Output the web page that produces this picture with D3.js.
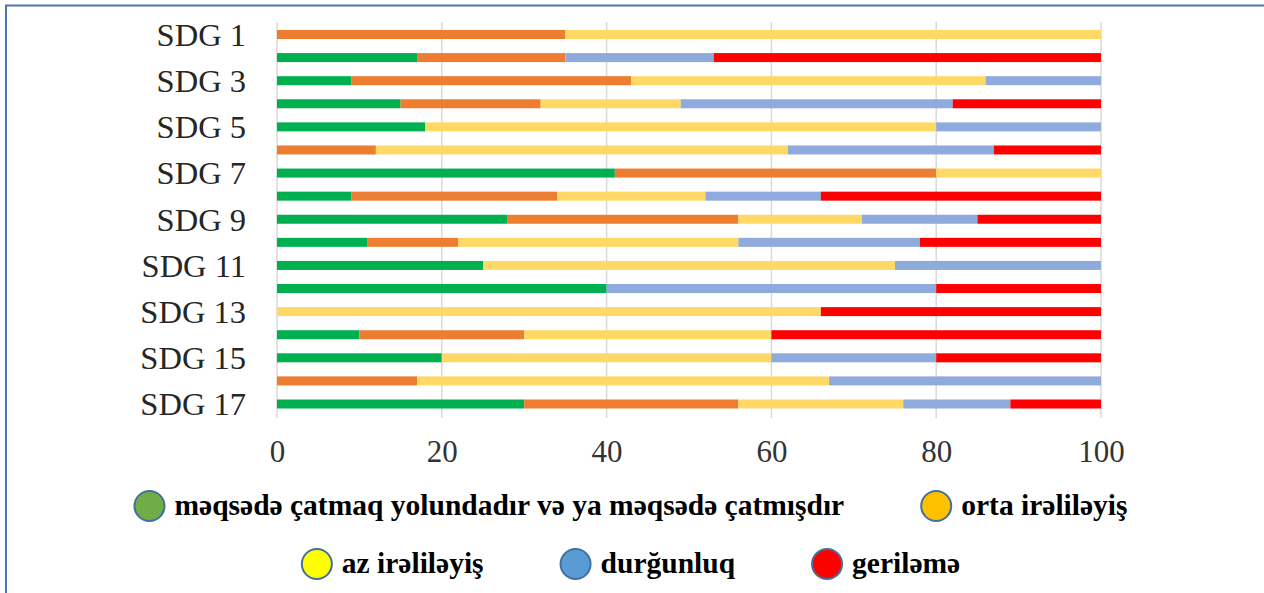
<!DOCTYPE html>
<html>
<head>
  <meta charset="utf-8">
  <title>SDG irəliləyiş</title>
  <style>
    body { margin: 0; background: #fff; }
    .yaxis .domain, .xaxis .domain { display: none; }
    .yaxis text { font: 32.5px "Liberation Serif", "Times New Roman", serif; fill: #262626; }
    .xaxis text { font: 31px "Liberation Serif", "Times New Roman", serif; fill: #333; }
    .legend text { font: bold 29.5px "Liberation Serif", "Times New Roman", serif; fill: #000; }
  </style>
</head>
<body>
<svg id="chart" width="1264" height="593"></svg>
<script src="https://cdn.jsdelivr.net/npm/d3@7"></script>
<script>
  // Data
  var categories = ["SDG 1", "SDG 2", "SDG 3", "SDG 4", "SDG 5", "SDG 6", "SDG 7", "SDG 8", "SDG 9",
                    "SDG 10", "SDG 11", "SDG 12", "SDG 13", "SDG 14", "SDG 15", "SDG 16", "SDG 17"];
  var seriesNames = ["məqsədə çatmaq yolundadır və ya məqsədə çatmışdır", "orta irəliləyiş",
                     "az irəliləyiş", "durğunluq", "geriləmə"];
  var onTrack    = [0, 17, 9, 15, 18, 0, 41, 9, 28, 11, 25, 40, 0, 10, 20, 0, 30];
  var moderate   = [35, 18, 34, 17, 0, 12, 39, 25, 28, 11, 0, 0, 0, 20, 0, 17, 26];
  var little     = [65, 0, 43, 17, 62, 50, 20, 18, 15, 34, 50, 0, 66, 30, 40, 50, 20];
  var stagnation = [0, 18, 14, 33, 20, 25, 0, 14, 14, 22, 25, 40, 0, 0, 20, 33, 13];
  var regression = [0, 47, 0, 18, 0, 13, 0, 34, 15, 22, 0, 20, 34, 40, 20, 0, 11];
  var xTicks = [0, 20, 40, 60, 80, 100];

  var barColors = ["#00b050", "#ed7d31", "#ffd966", "#8faadc", "#ff0000"];
  var legendColors = ["#70ad47", "#ffc000", "#ffff00", "#5b9bd5", "#ff0000"];

  var allValues = [onTrack, moderate, little, stagnation, regression];
  var rows = categories.map(function(c, i) {
    var r = {cat: c};
    seriesNames.forEach(function(k, j) { r[k] = allValues[j][i]; });
    return r;
  });

  var svg = d3.select("#chart");

  // frame (top and left edges visible)
  svg.append("rect")
    .attr("x", 6).attr("y", 5.5)
    .attr("width", 1300).attr("height", 700)
    .attr("fill", "none")
    .attr("stroke", "#4f76ab")
    .attr("stroke-width", 2);

  var x = d3.scaleLinear().domain([0, 100]).range([277, 1101]);
  var y = d3.scaleBand().domain(categories)
    .range([22.95, 415.55])
    .paddingInner(0.61)
    .paddingOuter(0.305);

  // gridlines
  svg.append("g")
    .selectAll("line")
    .data(xTicks)
    .enter().append("line")
    .attr("x1", function(d) { return x(d); })
    .attr("x2", function(d) { return x(d); })
    .attr("y1", 22)
    .attr("y2", 418)
    .attr("stroke", "#d9d9d9")
    .attr("stroke-width", 1.5);

  // bars
  var stack = d3.stack().keys(seriesNames)(rows);
  svg.append("g")
    .selectAll("g")
    .data(stack)
    .enter().append("g")
    .attr("fill", function(d, i) { return barColors[i]; })
    .selectAll("rect")
    .data(function(d) { return d; })
    .enter().append("rect")
    .attr("x", function(d) { return x(d[0]); })
    .attr("y", function(d) { return y(d.data.cat); })
    .attr("width", function(d) { return x(d[1]) - x(d[0]); })
    .attr("height", y.bandwidth());

  // y axis, only odd labels shown
  svg.append("g")
    .attr("class", "yaxis")
    .attr("transform", "translate(" + x(0) + ",0)")
    .call(d3.axisLeft(y)
      .tickValues(categories.filter(function(d, i) { return i % 2 === 0; }))
      .tickSize(0)
      .tickPadding(31))
    .selectAll("text").attr("dy", "0.35em");

  // x axis
  svg.append("g")
    .attr("class", "xaxis")
    .attr("transform", "translate(0,430)")
    .call(d3.axisBottom(x).tickValues(xTicks).tickSize(0).tickPadding(10))
    .selectAll("text").attr("dy", "0.71em");

  // legend
  var legendRows = [[0, 1], [2, 3, 4]];
  var legendY = [506, 564];
  var legendCenter = 631;
  var gap = 92, textOff = 25, r = 15;

  var legend = svg.append("g").attr("class", "legend");
  legendRows.forEach(function(items, ri) {
    var g = legend.append("g");
    var cx = 0;
    items.forEach(function(k, j) {
      if (j > 0) cx += gap;
      g.append("circle")
        .attr("cx", cx).attr("cy", legendY[ri]).attr("r", r)
        .attr("fill", legendColors[k])
        .attr("stroke", "#41719c").attr("stroke-width", 2);
      var t = g.append("text")
        .attr("x", cx + textOff).attr("y", legendY[ri])
        .attr("dy", "0.3em")
        .text(seriesNames[k]);
      cx += textOff + t.node().getComputedTextLength();
    });
    var w = cx + r;
    g.attr("transform", "translate(" + (legendCenter - w / 2 + r) + ",0)");
  });
</script>
</body>
</html>
